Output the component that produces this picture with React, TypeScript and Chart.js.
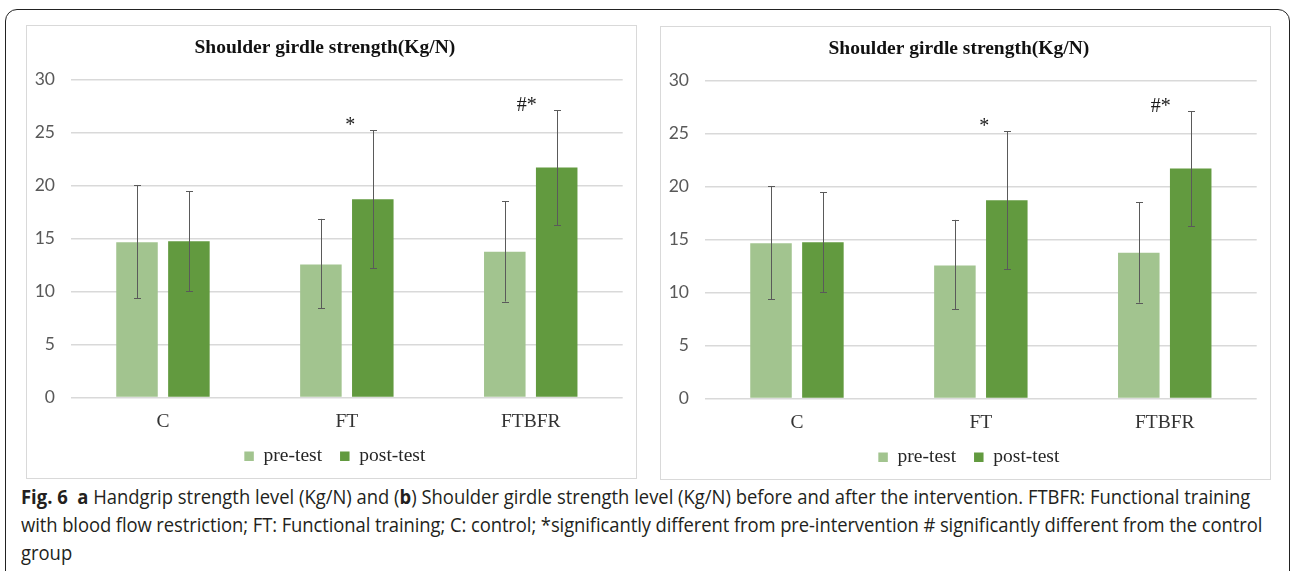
import React, { useEffect, useRef } from 'react';
import { Chart, registerables } from 'chart.js';

Chart.register(...registerables);

// ---------- data ----------
const categories = ['C', 'FT', 'FTBFR'];
const seriesNames = ['pre-test', 'post-test'];
const preTest = [14.65, 12.55, 13.75];
const preLow = [9.35, 8.4, 9.05];
const preHigh = [20.05, 16.85, 18.5];
const postTest = [14.75, 18.7, 21.7];
const postLow = [10.05, 12.2, 16.25];
const postHigh = [19.45, 25.2, 27.1];
const yTicks = [0, 5, 10, 15, 20, 25, 30];
const sigMarks = ['', '*', '#*'];
const chartTitle = 'Shoulder girdle strength(Kg/N)';

// ---------- styles ----------
const PRE_COLOR = '#a2c48f';
const POST_COLOR = '#629a3f';
const GRID_COLOR = '#d9d9d9';
const ERR_COLOR = '#5a5a5a';
const SERIF = '"Liberation Serif", "Times New Roman", serif';
const SANS = 'Lato, "Liberation Sans", sans-serif';
const markDx = [0, 3.5, -4];
const LEGEND_SHIFT = 10;

const errorBarPlugin = {
  id: 'errorBars',
  afterLayout(chart: any) {
    if (chart.legend) {
      chart.legend.left += LEGEND_SHIFT;
      chart.legend.right += LEGEND_SHIFT;
    }
  },
  afterDatasetsDraw(chart: any) {
    const { ctx } = chart;
    const y = chart.scales.y;
    chart.data.datasets.forEach((ds: any, di: number) => {
      const meta = chart.getDatasetMeta(di);
      meta.data.forEach((bar: any, i: number) => {
        const x = Math.round(bar.x) + 0.5;
        const yh = y.getPixelForValue(ds.errHigh[i]);
        const yl = y.getPixelForValue(ds.errLow[i]);
        ctx.save();
        ctx.strokeStyle = ERR_COLOR;
        ctx.lineWidth = 1;
        ctx.beginPath();
        ctx.moveTo(x, yh);
        ctx.lineTo(x, yl);
        ctx.moveTo(x - 3.5, Math.round(yh) + 0.5);
        ctx.lineTo(x + 3.5, Math.round(yh) + 0.5);
        ctx.moveTo(x - 3.5, Math.round(yl) + 0.5);
        ctx.lineTo(x + 3.5, Math.round(yl) + 0.5);
        ctx.stroke();
        ctx.restore();
      });
    });
    // significance marks
    const xs = chart.scales.x;
    ctx.save();
    ctx.fillStyle = '#1a1a1a';
    ctx.font = `20px ${SERIF}`;
    ctx.textAlign = 'center';
    ctx.textBaseline = 'alphabetic';
    sigMarks.forEach((m, i) => {
      if (!m) return;
      const cx = xs.getPixelForValue(i) + markDx[i];
      const cy = y.getPixelForValue(postHigh[i]) + 0.5;
      ctx.fillText(m, cx, cy);
    });
    ctx.restore();
  },
};

function ChartPanel({ left, top }: { left: number; top: number }) {
  const ref = useRef<HTMLCanvasElement | null>(null);
  useEffect(() => {
    if (!ref.current) return;
    const chart = new Chart(ref.current, {
      type: 'bar',
      data: {
        labels: categories,
        datasets: [
          {
            label: seriesNames[0],
            data: preTest,
            backgroundColor: PRE_COLOR,
            errLow: preLow,
            errHigh: preHigh,
            barPercentage: 0.8,
            categoryPercentage: 0.5645,
          } as any,
          {
            label: seriesNames[1],
            data: postTest,
            backgroundColor: POST_COLOR,
            errLow: postLow,
            errHigh: postHigh,
            barPercentage: 0.8,
            categoryPercentage: 0.5645,
          } as any,
        ],
      },
      options: {
        responsive: false,
        animation: false,
        devicePixelRatio: 1,
        layout: { padding: { left: 0, right: 13.3, top: 0, bottom: 2 } },
        plugins: {
          tooltip: { enabled: false },
          title: {
            display: true,
            text: chartTitle,
            color: '#111111',
            font: { family: SERIF, size: 19.5, weight: 'bold', lineHeight: 1.2 },
            padding: { top: 10.3, bottom: 19.8 },
          },
          legend: {
            position: 'bottom',
            labels: {
              boxWidth: 9.5,
              boxHeight: 9.5,
              padding: 18,
              color: '#262626',
              font: { family: SERIF, size: 19.5 },
            },
          },
        },
        scales: {
          x: {
            grid: { display: false, drawTicks: false },
            border: { display: false },
            ticks: {
              color: '#333333',
              padding: 12.8,
              font: { family: SERIF, size: 19.5, lineHeight: 1.2 },
            },
            afterFit: (s: any) => {
              s.height = 31;
            },
          },
          y: {
            min: 0,
            max: 30,
            grid: { color: GRID_COLOR, lineWidth: 1.5, drawTicks: false },
            border: { display: false },
            ticks: {
              color: '#595959',
              padding: 16,
              font: { family: SANS, size: 17.5 },
            },
            afterBuildTicks: (s: any) => {
              s.ticks = yTicks.map((v) => ({ value: v }));
            },
            afterFit: (s: any) => {
              s.width = 44;
            },
          },
        },
      },
      plugins: [errorBarPlugin],
    } as any);
    return () => chart.destroy();
  }, []);
  return (
    <div
      style={{
        position: 'absolute',
        left,
        top,
        width: 609,
        height: 452,
        border: '1px solid #d9d9d9',
        background: '#fff',
      }}
    >
      <canvas ref={ref} width={609} height={452} style={{ width: 609, height: 452, display: 'block' }} />
    </div>
  );
}

const CAP_FONT = '"Open Sans", "Noto Sans", sans-serif';

export default function App() {
  const lineStyle: React.CSSProperties = {
    whiteSpace: 'nowrap',
    height: 28,
    lineHeight: '28px',
  };
  return (
    <div
      style={{
        position: 'absolute',
        left: 0,
        top: 0,
        width: 1290,
        height: 571,
        overflow: 'hidden',
        background: '#fff',
      }}
    >
      <div
        style={{
          position: 'absolute',
          left: 5,
          top: 9,
          width: 1285,
          height: 640,
          boxSizing: 'border-box',
          border: '1.5px solid #222',
          borderRadius: 12,
        }}
      />
      <ChartPanel left={26} top={25} />
      <ChartPanel left={660} top={26} />
      <div
        style={{
          position: 'absolute',
          left: 21,
          top: 483,
          fontFamily: CAP_FONT,
          fontSize: 20,
          color: '#231f20',
          transform: 'scaleX(0.921)',
          transformOrigin: '0 0',
        }}
      >
        <div style={lineStyle}>
          <b>Fig. 6</b>&nbsp; <b>a</b> Handgrip strength level (Kg/N) and (<b>b</b>) Shoulder girdle strength level
          (Kg/N) before and after the intervention. FTBFR: Functional training
        </div>
        <div style={{ ...lineStyle, letterSpacing: -0.09 }}>
          with blood flow restriction; FT: Functional training; C: control; *significantly different from
          pre-intervention # significantly different from the control
        </div>
        <div style={lineStyle}>group</div>
      </div>
    </div>
  );
}
